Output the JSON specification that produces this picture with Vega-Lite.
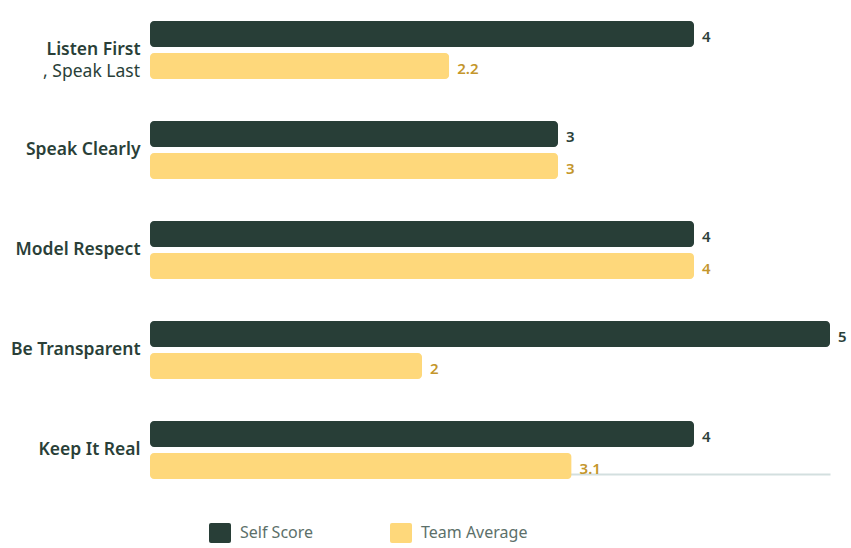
{
  "$schema": "https://vega.github.io/schema/vega-lite/v6.json",
  "width": 680,
  "height": 500,
  "autosize": {"type": "none"},
  "padding": {"left": 150, "top": 0, "right": 21, "bottom": 48},
  "background": "#ffffff",
  "config": {
    "font": "Noto Sans",
    "view": {"stroke": null}
  },
  "data": {
    "values": [
      {"category": "Listen First\n, Speak Last", "series": "Self Score", "value": 4},
      {"category": "Listen First\n, Speak Last", "series": "Team Average", "value": 2.2},
      {"category": "Speak Clearly", "series": "Self Score", "value": 3},
      {"category": "Speak Clearly", "series": "Team Average", "value": 3},
      {"category": "Model Respect", "series": "Self Score", "value": 4},
      {"category": "Model Respect", "series": "Team Average", "value": 4},
      {"category": "Be Transparent", "series": "Self Score", "value": 5},
      {"category": "Be Transparent", "series": "Team Average", "value": 2},
      {"category": "Keep It Real", "series": "Self Score", "value": 4},
      {"category": "Keep It Real", "series": "Team Average", "value": 3.1}
    ]
  },
  "encoding": {
    "y": {
      "field": "category",
      "type": "nominal",
      "sort": null,
      "scale": {"paddingInner": 0.42, "paddingOuter": 0.21},
      "axis": {
        "title": null,
        "ticks": false,
        "domain": false,
        "labelExpr": "split(datum.label, '\\n')[0]",
        "labelFontSize": 17.5,
        "labelFontWeight": 600,
        "labelColor": "#2A3F38",
        "labelPadding": 10
      }
    }
  },
  "layer": [
    {
      "mark": {"type": "bar", "cornerRadius": 4},
      "encoding": {
        "x": {
          "field": "value",
          "type": "quantitative",
          "scale": {"domain": [0, 5], "nice": false},
          "axis": {
            "title": null,
            "labels": false,
            "ticks": false,
            "grid": false,
            "domainColor": "#D3DFDF",
            "domainWidth": 2,
            "offset": -26
          }
        },
        "yOffset": {
          "field": "series",
          "type": "nominal",
          "scale": {"paddingInner": 0.1875, "paddingOuter": 0}
        },
        "color": {
          "field": "series",
          "type": "nominal",
          "scale": {"domain": ["Self Score", "Team Average"], "range": ["#283E37", "#FED87B"]},
          "legend": {
            "title": null,
            "orient": "none",
            "direction": "horizontal",
            "legendX": 60,
            "legendY": 523,
            "symbolType": "M-0.9,-1 L0.9,-1 Q1.1,-1 1.1,-0.8 L1.1,0.8 Q1.1,1 0.9,1 L-0.9,1 Q-1.1,1 -1.1,0.8 L-1.1,-0.8 Q-1.1,-1 -0.9,-1 Z",
            "symbolSize": 400,
            "symbolStrokeWidth": 0,
            "labelFontSize": 16,
            "labelColor": "#5C706A",
            "labelOffset": 10,
            "columnPadding": 76
          }
        }
      }
    },
    {
      "mark": {"type": "text", "align": "left", "baseline": "middle", "dx": 8, "dy": 3, "fontSize": 15, "fontWeight": 600},
      "encoding": {
        "x": {"field": "value", "type": "quantitative"},
        "yOffset": {"field": "series", "type": "nominal"},
        "text": {"field": "value", "type": "quantitative"},
        "fill": {
          "condition": {"test": "datum.series === 'Self Score'", "value": "#2B3F39"},
          "value": "#C4962C"
        }
      }
    },
    {
      "transform": [
        {"filter": "indexof(datum.category, '\\n') >= 0 && datum.series === 'Self Score'"},
        {"calculate": "split(datum.category, '\\n')[1]", "as": "line2"}
      ],
      "mark": {"type": "text", "align": "right", "baseline": "middle", "dx": -10, "dy": 22, "fontSize": 17.5, "color": "#2A3F38"},
      "encoding": {
        "x": {"datum": 0},
        "text": {"field": "line2", "type": "nominal"}
      }
    }
  ]
}
